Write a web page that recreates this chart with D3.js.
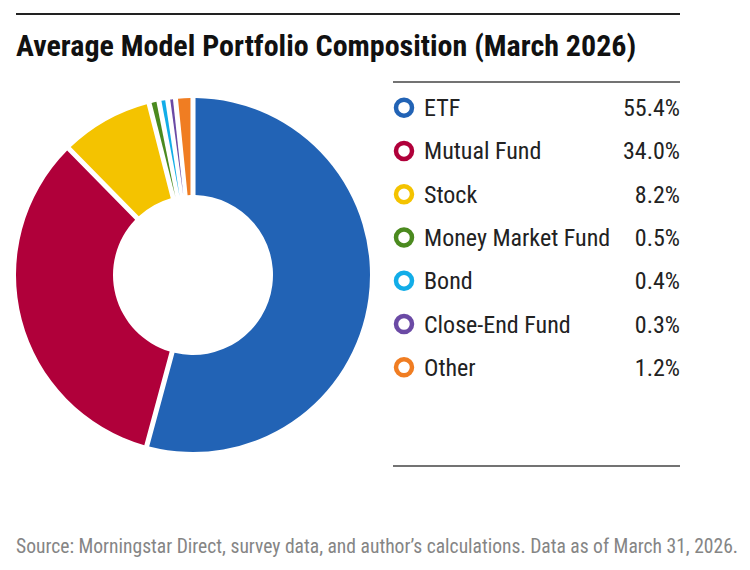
<!DOCTYPE html>
<html lang="en">
<head>
  <meta charset="UTF-8">
  <title>Average Model Portfolio Composition (March 2026)</title>
  <script src="https://d3js.org/d3.v7.min.js"></script>
  <style>
    body { margin: 0; background: #fff; }
    svg text { font-family: "Liberation Sans Narrow", "Roboto Condensed", "Arial Narrow", sans-serif; }
  </style>
</head>
<body>
<div id="chart"></div>
<script>
const categories = ["ETF", "Mutual Fund", "Stock", "Money Market Fund", "Bond", "Close-End Fund", "Other"];
const shares = [55.4, 34.0, 8.2, 0.5, 0.4, 0.3, 1.2];
const colors = ["#2263b5", "#b0003a", "#f4c300", "#4b8a1f", "#12ade8", "#6b4aa5", "#f07d22"];

const data = categories.map((c, i) => ({ name: c, value: shares[i], color: colors[i] }));

const width = 750, height = 570;

const svg = d3.select("#chart").append("svg")
  .attr("width", width)
  .attr("height", height);

// top rule + title
svg.append("line")
  .attr("x1", 16).attr("x2", 680).attr("y1", 14).attr("y2", 14)
  .attr("stroke", "#222").attr("stroke-width", 2);

svg.append("text")
  .attr("x", 16).attr("y", 56)
  .attr("font-size", 30).attr("font-weight", "bold").attr("fill", "#111")
  .text("Average Model Portfolio Composition (March 2026)");

// donut
const cx = 193, cy = 275, outerR = 177, innerR = 80;

const pie = d3.pie().sort(null).value(d => d.value).padAngle(0.026);
const arc = d3.arc().innerRadius(innerR).outerRadius(outerR);

svg.append("g")
  .attr("transform", `translate(${cx},${cy})`)
  .selectAll("path")
  .data(pie(data))
  .join("path")
  .attr("d", arc)
  .attr("fill", d => d.data.color);

// legend
const lx = 393, rx = 680;
svg.append("line")
  .attr("x1", lx).attr("x2", rx).attr("y1", 82).attr("y2", 82)
  .attr("stroke", "#444").attr("stroke-width", 1.5);
svg.append("line")
  .attr("x1", lx).attr("x2", rx).attr("y1", 466).attr("y2", 466)
  .attr("stroke", "#444").attr("stroke-width", 1.5);

const y = d3.scaleBand()
  .domain(categories)
  .range([86, 389])
  .padding(0);

const item = svg.append("g").selectAll("g")
  .data(data)
  .join("g")
  .attr("transform", d => `translate(0,${y(d.name) + y.bandwidth() / 2})`);

item.append("circle")
  .attr("cx", 404).attr("cy", 0).attr("r", 8)
  .attr("fill", "none")
  .attr("stroke", d => d.color)
  .attr("stroke-width", 4.5);

item.append("text")
  .attr("x", 424).attr("y", 8.5)
  .attr("font-size", 24).attr("fill", "#222")
  .text(d => d.name);

item.append("text")
  .attr("x", rx).attr("y", 8.5)
  .attr("text-anchor", "end")
  .attr("font-size", 24).attr("fill", "#222")
  .text(d => d.value.toFixed(1) + "%");

// source
svg.append("text")
  .attr("x", 16).attr("y", 553)
  .attr("font-size", 19.5).attr("fill", "#858585")
  .attr("textLength", 722).attr("lengthAdjust", "spacingAndGlyphs")
  .text("Source: Morningstar Direct, survey data, and author\u2019s calculations. Data as of March 31, 2026.");
</script>
</body>
</html>
